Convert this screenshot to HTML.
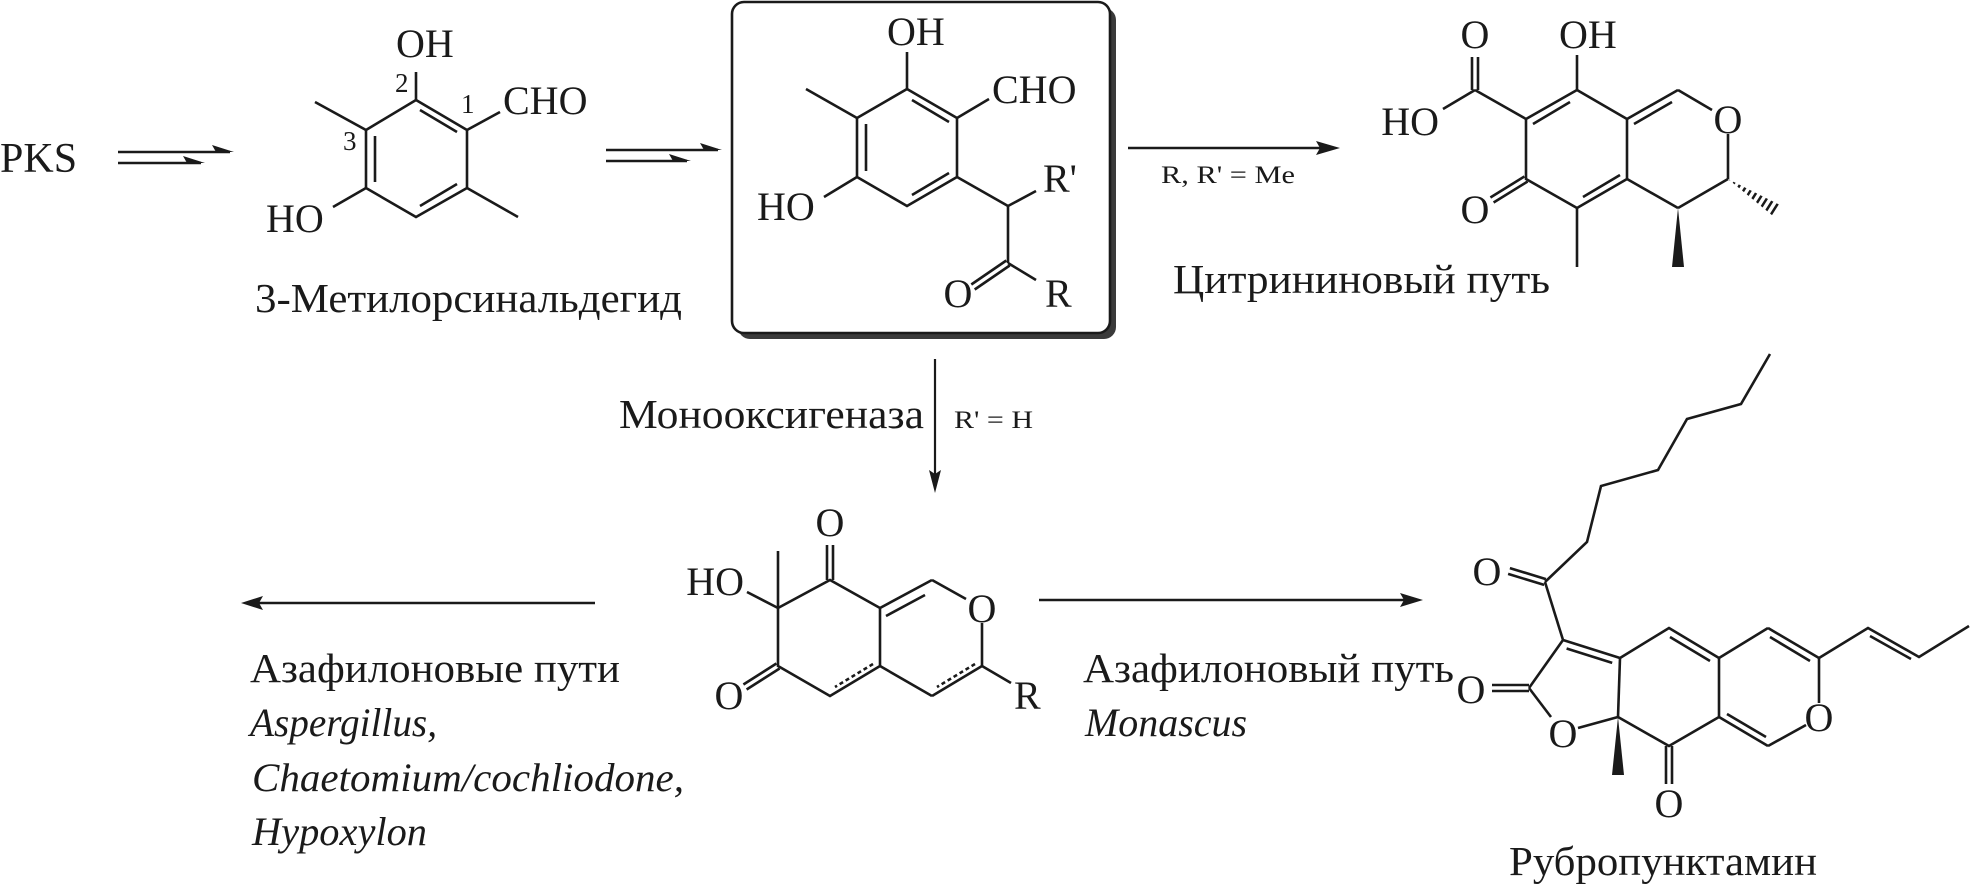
<!DOCTYPE html>
<html><head><meta charset="utf-8"><style>
html,body{margin:0;padding:0;background:#fff}
svg{display:block}
text{font-family:"Liberation Serif",serif;fill:#1a1a1a}
.a{font-size:40px}
.l{font-size:41px}
.s{font-size:25px}
.n{font-size:27px}
.i{font-style:italic;font-size:40px}
</style></head><body>
<svg width="1974" height="894" viewBox="0 0 1974 894" xmlns="http://www.w3.org/2000/svg">
<defs>
<mask id="hm"><line x1="1728" y1="179" x2="1777" y2="210" stroke="#fff" stroke-width="16" stroke-dasharray="2.5 3.5"/></mask>
</defs>
<g stroke="#1a1a1a" stroke-width="2.6" fill="none" stroke-linecap="butt">
<polygon points="416,100 467,130 467,188 416,217 366,188 366,130"/>
<line x1="420" y1="110" x2="457" y2="132"/>
<line x1="457" y1="184" x2="420" y2="206"/>
<line x1="375" y1="182" x2="375" y2="136"/>
<line x1="416" y1="100" x2="416" y2="72"/>
<line x1="467" y1="130" x2="500" y2="112"/>
<line x1="366" y1="130" x2="315" y2="102"/>
<line x1="467" y1="188" x2="518" y2="217"/>
<line x1="366" y1="188" x2="333" y2="207"/>
<line x1="118" y1="152" x2="230" y2="152"/>
<line x1="118" y1="163" x2="201" y2="163"/>
<line x1="606" y1="150" x2="718" y2="150"/>
<line x1="606" y1="161" x2="687" y2="161"/>
</g>
<g fill="#1a1a1a">
<polygon points="234,152 212,145 216,152"/>
<polygon points="205,163 183,156 187,163"/>
<polygon points="722,150 700,143 704,150"/>
<polygon points="691,161 669,154 673,161"/>
</g>
<text class="l" x="0" y="172" style="font-size:42px">PKS</text>
<text class="a" x="396" y="57">OH</text>
<text class="a" x="503" y="114">CHO</text>
<text class="a" x="266" y="232">HO</text>
<text class="n" x="395" y="92">2</text>
<text class="n" x="461" y="113">1</text>
<text class="n" x="343" y="150">3</text>
<text class="l" x="255" y="312" textLength="427" lengthAdjust="spacingAndGlyphs">3-Метилорсинальдегид</text>

<rect x="738" y="8" width="378" height="331" rx="12" fill="#3a3a3a"/>
<rect x="732" y="2" width="378" height="331" rx="12" fill="#fff" stroke="#1a1a1a" stroke-width="2.6"/>
<g stroke="#1a1a1a" stroke-width="2.6" fill="none">
<polygon points="907,89 957,118 957,177 907,206 857,177 857,118"/>
<line x1="912" y1="100" x2="949" y2="122"/>
<line x1="949" y1="173" x2="912" y2="195"/>
<line x1="866" y1="171" x2="866" y2="124"/>
<line x1="907" y1="89" x2="907" y2="52"/>
<line x1="857" y1="118" x2="806" y2="89"/>
<line x1="957" y1="118" x2="989" y2="99"/>
<line x1="857" y1="177" x2="824" y2="197"/>
<line x1="957" y1="177" x2="1008" y2="206"/>
<line x1="1008" y1="206" x2="1036" y2="191"/>
<line x1="1008" y1="206" x2="1008" y2="263"/>
<line x1="1008" y1="263" x2="1036" y2="280"/>
<line x1="1006.3" y1="260.5" x2="971.3" y2="284.5"/>
<line x1="1009.7" y1="265.5" x2="974.7" y2="289.5"/>
</g>
<text class="a" x="887" y="45">OH</text>
<text class="a" x="992" y="103">CHO</text>
<text class="a" x="757" y="220">HO</text>
<text class="a" x="1043" y="192">R'</text>
<text class="a" x="958" y="307" text-anchor="middle">O</text>
<text class="a" x="1045" y="307">R</text>

<line x1="1128" y1="148" x2="1322" y2="148" stroke="#1a1a1a" stroke-width="2.4"/>
<polygon points="1340,148 1316,141 1320,148 1316,155" fill="#1a1a1a"/>
<text class="s" x="1161" y="183" textLength="134" lengthAdjust="spacingAndGlyphs">R, R' = Me</text>
<text class="l" x="1173" y="293" textLength="377" lengthAdjust="spacingAndGlyphs">Цитрининовый путь</text>

<g stroke="#1a1a1a" stroke-width="2.6" fill="none">
<polygon points="1577,90 1627,119 1627,179 1577,208 1526,179 1526,119"/>
<line x1="1533" y1="124" x2="1570" y2="102"/>
<line x1="1620" y1="175" x2="1583" y2="197"/>
<line x1="1627" y1="119" x2="1678" y2="90"/>
<line x1="1634" y1="124" x2="1672" y2="102"/>
<line x1="1678" y1="90" x2="1712" y2="110"/>
<line x1="1728" y1="134" x2="1728" y2="179"/>
<line x1="1728" y1="179" x2="1678" y2="208"/>
<line x1="1678" y1="208" x2="1627" y2="179"/>
<line x1="1577" y1="90" x2="1577" y2="55"/>
<line x1="1526" y1="119" x2="1475" y2="90"/>
<line x1="1472" y1="90" x2="1472" y2="57"/>
<line x1="1478" y1="90" x2="1478" y2="57"/>
<line x1="1475" y1="90" x2="1443" y2="109"/>
<line x1="1524.4" y1="176.5" x2="1490.4" y2="197.5"/>
<line x1="1527.6" y1="181.5" x2="1493.6" y2="202.5"/>
<line x1="1577" y1="208" x2="1577" y2="267"/>
</g>
<polygon points="1678,208 1672,267 1684,267" fill="#1a1a1a"/>
<polygon points="1728,179 1780,205 1773,216" fill="#1a1a1a" mask="url(#hm)"/>
<text class="a" x="1559" y="48">OH</text>
<text class="a" x="1475" y="48" text-anchor="middle">O</text>
<text class="a" x="1439" y="135" text-anchor="end">HO</text>
<text class="a" x="1728" y="133" text-anchor="middle">O</text>
<text class="a" x="1475" y="223" text-anchor="middle">O</text>

<line x1="935" y1="359" x2="935" y2="476" stroke="#1a1a1a" stroke-width="2.2"/>
<polygon points="935,493 929,470 935,474 941,470" fill="#1a1a1a"/>
<text class="l" x="619" y="428" textLength="305" lengthAdjust="spacingAndGlyphs">Монооксигеназа</text>
<text class="s" x="954" y="428" textLength="79" lengthAdjust="spacingAndGlyphs">R' = H</text>

<g stroke="#1a1a1a" stroke-width="2.6" fill="none">
<polyline points="778,608 830,580 880,608 880,666 830,696 778,666 778,608"/>
<line x1="880" y1="608" x2="932" y2="580"/>
<line x1="886" y1="616" x2="925" y2="595"/>
<line x1="932" y1="580" x2="966" y2="599"/>
<line x1="982" y1="623" x2="982" y2="666"/>
<line x1="982" y1="666" x2="932" y2="696"/>
<line x1="932" y1="696" x2="880" y2="666"/>
<line x1="975" y1="664" x2="937" y2="687" stroke-dasharray="4 3"/>
<line x1="873" y1="664" x2="835" y2="687" stroke-dasharray="4 3"/>
<line x1="778" y1="608" x2="778" y2="551"/>
<line x1="778" y1="608" x2="747" y2="592"/>
<line x1="827" y1="580" x2="827" y2="545"/>
<line x1="833" y1="580" x2="833" y2="545"/>
<line x1="776.4" y1="663.5" x2="743.4" y2="684.5"/>
<line x1="779.6" y1="668.5" x2="746.6" y2="689.5"/>
<line x1="982" y1="666" x2="1011" y2="683"/>
</g>
<text class="a" x="744" y="595" text-anchor="end">HO</text>
<text class="a" x="830" y="536" text-anchor="middle">O</text>
<text class="a" x="982" y="622" text-anchor="middle">O</text>
<text class="a" x="729" y="709" text-anchor="middle">O</text>
<text class="a" x="1014" y="709">R</text>

<line x1="595" y1="603" x2="256" y2="603" stroke="#1a1a1a" stroke-width="2.4"/>
<polygon points="241,603 263,596 259,603 263,610" fill="#1a1a1a"/>
<line x1="1039" y1="600" x2="1406" y2="600" stroke="#1a1a1a" stroke-width="2.4"/>
<polygon points="1423,600 1400,593 1404,600 1400,607" fill="#1a1a1a"/>

<text class="l" x="250" y="682" textLength="370" lengthAdjust="spacingAndGlyphs">Азафилоновые пути</text>
<text class="i" x="250" y="736" textLength="187" lengthAdjust="spacingAndGlyphs">Aspergillus,</text>
<text class="i" x="252" y="791" textLength="432" lengthAdjust="spacingAndGlyphs">Chaetomium/cochliodone,</text>
<text class="i" x="252" y="845" textLength="175" lengthAdjust="spacingAndGlyphs">Hypoxylon</text>
<text class="l" x="1083" y="682" textLength="371" lengthAdjust="spacingAndGlyphs">Азафилоновый путь</text>
<text class="i" x="1085" y="736" textLength="162" lengthAdjust="spacingAndGlyphs">Monascus</text>

<g stroke="#1a1a1a" stroke-width="2.6" fill="none" stroke-linejoin="miter">
<line x1="1529" y1="685" x2="1492" y2="685"/>
<line x1="1529" y1="691" x2="1492" y2="691"/>
<line x1="1529" y1="688" x2="1563" y2="640"/>
<line x1="1529" y1="688" x2="1551" y2="717"/>
<line x1="1578" y1="728" x2="1618" y2="717"/>
<line x1="1618" y1="717" x2="1620" y2="658"/>
<line x1="1563" y1="640" x2="1620" y2="658"/>
<line x1="1566.6" y1="648.5" x2="1612.2" y2="662.9"/>
<line x1="1563" y1="640" x2="1545" y2="582"/>
<line x1="1545.9" y1="579.1" x2="1509.9" y2="568.1"/>
<line x1="1544.1" y1="584.9" x2="1508.1" y2="573.9"/>
<polyline points="1545,582 1587,542 1601,486 1658,470 1687,419 1741,404 1770,354"/>
<polyline points="1620,658 1669,628 1719,658 1719,717 1669,746 1618,717"/>
<line x1="1670" y1="637" x2="1710" y2="661"/>
<line x1="1666" y1="746" x2="1666" y2="784"/>
<line x1="1672" y1="746" x2="1672" y2="784"/>
<line x1="1719" y1="658" x2="1768" y2="628"/>
<line x1="1768" y1="628" x2="1819" y2="658"/>
<line x1="1770" y1="637" x2="1810" y2="661"/>
<line x1="1819" y1="658" x2="1819" y2="703"/>
<line x1="1806" y1="725" x2="1768" y2="746"/>
<line x1="1768" y1="746" x2="1719" y2="717"/>
<line x1="1766" y1="737" x2="1727" y2="714"/>
<polyline points="1819,658 1868,628 1919,657 1969,626"/>
<line x1="1870" y1="636" x2="1911" y2="659"/>
</g>
<polygon points="1618,717 1612,775 1624,775" fill="#1a1a1a"/>
<text class="a" x="1471" y="703" text-anchor="middle">O</text>
<text class="a" x="1563" y="747" text-anchor="middle">O</text>
<text class="a" x="1487" y="585" text-anchor="middle">O</text>
<text class="a" x="1669" y="817" text-anchor="middle">O</text>
<text class="a" x="1819" y="731" text-anchor="middle">O</text>
<text class="l" x="1509" y="875" textLength="308" lengthAdjust="spacingAndGlyphs">Рубропунктамин</text>
</svg>
</body></html>
